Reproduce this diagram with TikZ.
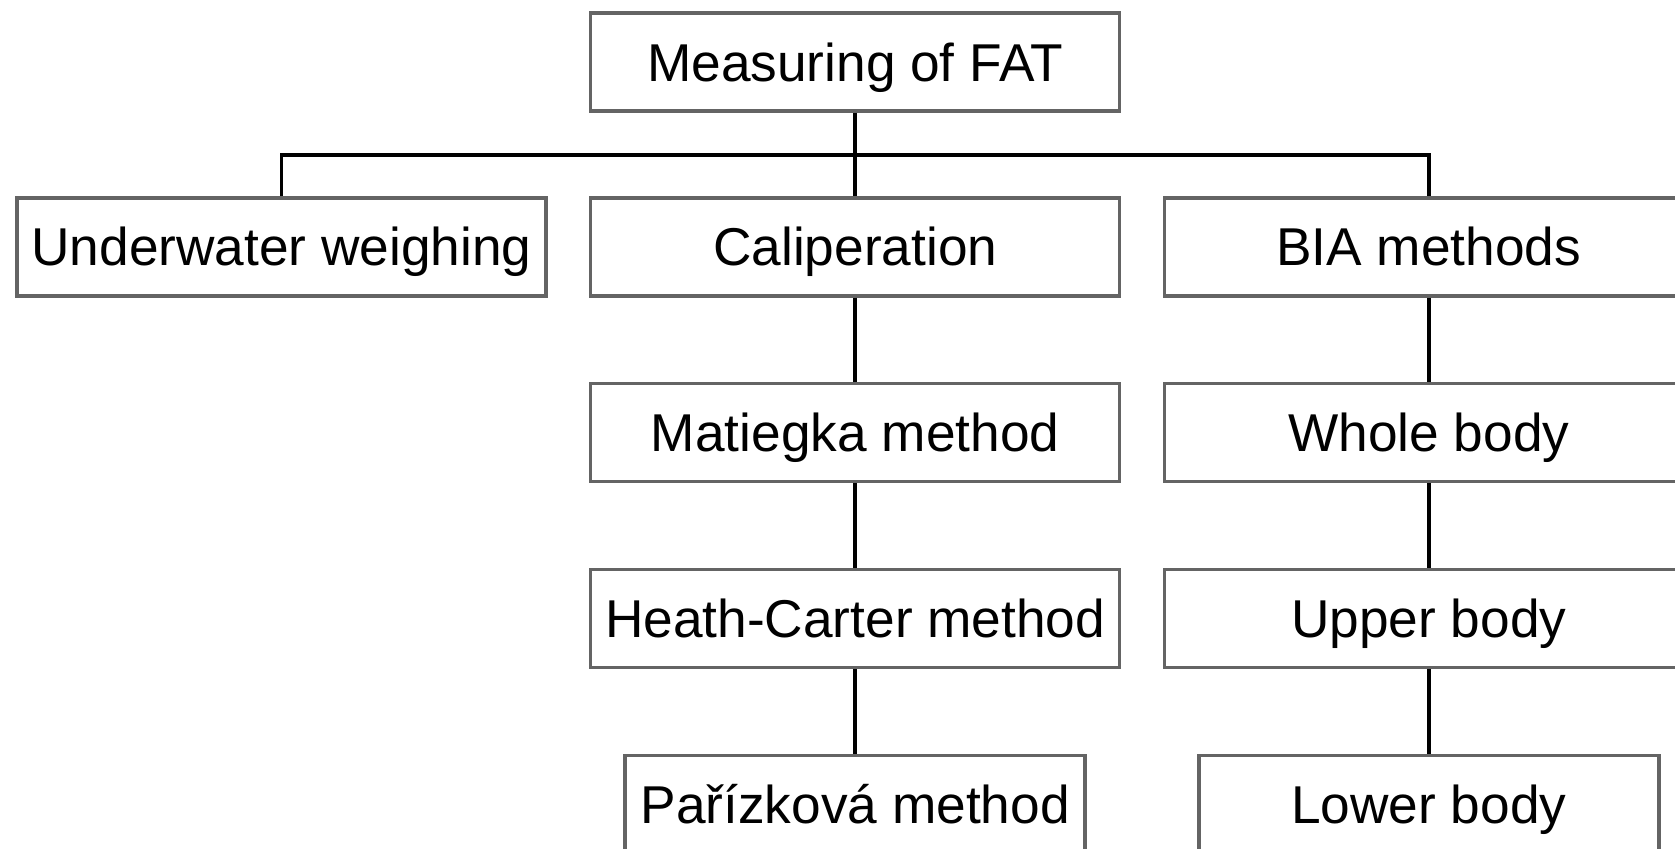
\documentclass[tikz,border=0pt]{standalone}
\usepackage{fontspec}
\setmainfont{Liberation Sans}
\usepackage{xcolor}
\definecolor{boxgray}{RGB}{100,100,100}

\begin{document}
\begin{tikzpicture}[xscale=1, yscale=1,
    fatbox/.style={draw=boxgray, line width=1pt, fill=white, inner sep=0pt,
        minimum width=5.29cm, minimum height=0.98cm,
        text height=0.49cm, text depth=0.11cm,
        font=\fontsize{15.15}{17}\selectfont},
    narrowbox/.style={fatbox, minimum width=4.6cm},
    link/.style={draw=black, line width=1pt}]
        \useasboundingbox (0,0) rectangle (16.75,-8.48);

        % Draw the top of the tree
        \node[fatbox] (fat) at (8.552,-0.620) {Measuring of FAT};

        % Draw the three kinds of measuring
        \node[fatbox] (water) at (2.815,-2.468) {Underwater weighing};
        \node[fatbox] (calip) at (8.552,-2.468) {Caliperation};
        \node[fatbox] (bia)   at (14.288,-2.468) {BIA methods};

        % Draw the caliperation methods
        \node[fatbox]    (matiegka) at (8.552,-4.327) {Matiegka method};
        \node[fatbox]    (heath)    at (8.552,-6.185) {Heath-Carter method};
        \node[narrowbox] (parizk)   at (8.552,-8.045) {Pařízková method};

        % Draw the BIA parts of the body
        \node[fatbox]    (whole) at (14.288,-4.327) {Whole body};
        \node[fatbox]    (upper) at (14.288,-6.185) {Upper body};
        \node[narrowbox] (lower) at (14.288,-8.045) {Lower body};

        % Connect the top to the three kinds
        \coordinate (bus) at (0,-1.549);
        \draw[link] (fat.south) -- (calip.north);
        \draw[link] (water.north) -- (water.north |- bus) -- (bia.north |- bus) -- (bia.north);

        % Connect the two columns
        \draw[link] (calip.south) -- (matiegka.north);
        \draw[link] (matiegka.south) -- (heath.north);
        \draw[link] (heath.south) -- (parizk.north);
        \draw[link] (bia.south) -- (whole.north);
        \draw[link] (whole.south) -- (upper.north);
        \draw[link] (upper.south) -- (lower.north);
    \end{tikzpicture}
\end{document}
